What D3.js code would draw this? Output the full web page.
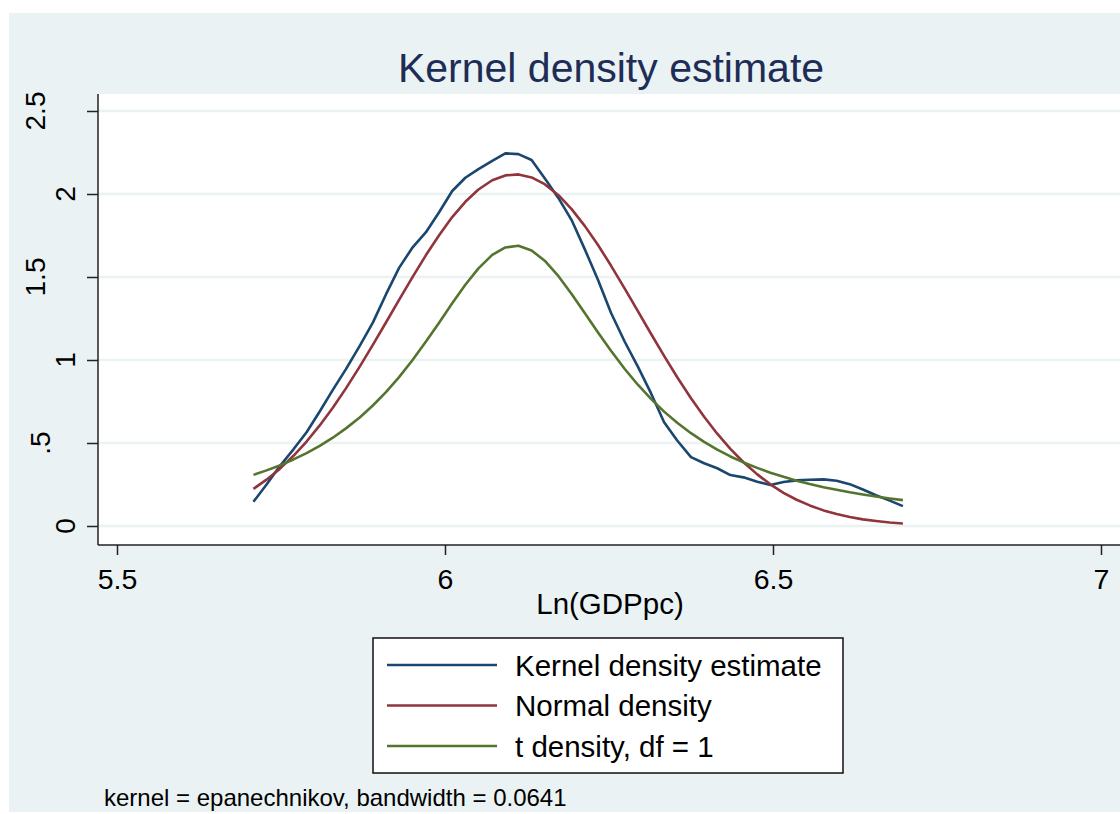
<!DOCTYPE html>
<html>
<head>
<meta charset="utf-8">
<script src="https://cdn.jsdelivr.net/npm/d3@7"></script>
<style>
  html, body { margin: 0; padding: 0; background: #ffffff; overflow: hidden; }
  svg { display: block; font-family: "Liberation Sans", Arial, Helvetica, sans-serif; }
</style>
</head>
<body>
<svg id="chart" width="1120" height="814"></svg>
<script>
// Evaluation grid for Ln(GDPpc)
const gridX = [5.708, 5.728, 5.748, 5.769, 5.789, 5.809, 5.829, 5.849, 5.870, 5.890,
               5.910, 5.930, 5.950, 5.971, 5.991, 6.011, 6.031, 6.051, 6.072, 6.092,
               6.112, 6.132, 6.152, 6.173, 6.193, 6.213, 6.233, 6.253, 6.274, 6.294,
               6.314, 6.334, 6.354, 6.375, 6.395, 6.415, 6.435, 6.455, 6.476, 6.496,
               6.516, 6.536, 6.556, 6.577, 6.597, 6.617, 6.637, 6.657, 6.678, 6.698];

// Kernel density estimate (epanechnikov)
const kernelDensity = [0.146, 0.250, 0.360, 0.462, 0.565, 0.690, 0.820, 0.945, 1.085, 1.225,
                       1.395, 1.555, 1.675, 1.770, 1.890, 2.018, 2.098, 2.150, 2.200, 2.245,
                       2.240, 2.205, 2.095, 1.975, 1.843, 1.668, 1.485, 1.285, 1.110, 0.960,
                       0.800, 0.625, 0.515, 0.415, 0.378, 0.348, 0.307, 0.293, 0.267, 0.247,
                       0.265, 0.275, 0.279, 0.281, 0.273, 0.252, 0.220, 0.185, 0.153, 0.120];

// Normal density
const normalDensity = [0.224, 0.279, 0.344, 0.423, 0.509, 0.606, 0.712, 0.829, 0.960, 1.091,
                       1.226, 1.362, 1.496, 1.632, 1.752, 1.861, 1.953, 2.027, 2.083, 2.112,
                       2.118, 2.100, 2.059, 1.993, 1.909, 1.808, 1.694, 1.569, 1.430, 1.294,
                       1.158, 1.025, 0.896, 0.770, 0.658, 0.556, 0.465, 0.384, 0.311, 0.251,
                       0.200, 0.158, 0.124, 0.094, 0.072, 0.054, 0.040, 0.030, 0.021, 0.015];

// t density, df = 1
const tDensity = [0.308, 0.335, 0.365, 0.401, 0.439, 0.483, 0.532, 0.588, 0.654, 0.726,
                  0.807, 0.897, 0.997, 1.111, 1.225, 1.342, 1.453, 1.552, 1.633, 1.678,
                  1.688, 1.660, 1.598, 1.505, 1.398, 1.283, 1.167, 1.056, 0.946, 0.851,
                  0.766, 0.689, 0.622, 0.559, 0.507, 0.460, 0.419, 0.383, 0.350, 0.321,
                  0.296, 0.273, 0.253, 0.234, 0.218, 0.203, 0.190, 0.178, 0.166, 0.156];

const xTicks = [5.5, 6, 6.5, 7];
const xTickLabels = ["5.5", "6", "6.5", "7"];
const yTicks = [0, 0.5, 1, 1.5, 2, 2.5];
const yTickLabels = ["0", ".5", "1", "1.5", "2", "2.5"];

const seriesNames = ["Kernel density estimate", "Normal density", "t density, df = 1"];
const seriesColors = ["#1a476f", "#90353b", "#55752f"];

const titleText = "Kernel density estimate";
const xAxisTitle = "Ln(GDPpc)";
const noteText = "kernel = epanechnikov, bandwidth = 0.0641";

const svg = d3.select("#chart");

// Layout
const outer = { left: 9, top: 13, right: 1230, bottom: 812 };
const plot = { left: 98, top: 94, right: 1126, bottom: 545 };

const x = d3.scaleLinear().domain([5.5, 7]).range([117, 1101]);
const y = d3.scaleLinear().domain([0, 2.5]).range([526, 111]);

// Graph region background
svg.append("rect")
  .attr("x", outer.left).attr("y", outer.top)
  .attr("width", outer.right - outer.left).attr("height", outer.bottom - outer.top)
  .attr("fill", "#eaf2f3");

// Plot region
svg.append("rect")
  .attr("x", plot.left).attr("y", plot.top)
  .attr("width", plot.right - plot.left).attr("height", plot.bottom - plot.top)
  .attr("fill", "#ffffff");

// Horizontal grid lines
svg.append("g")
  .selectAll("line")
  .data(yTicks)
  .join("line")
  .attr("x1", plot.left).attr("x2", plot.right)
  .attr("y1", d => y(d)).attr("y2", d => y(d))
  .attr("stroke", "#eaf2f3")
  .attr("stroke-width", 2.5);

// Y axis
const yAxis = d3.axisLeft(y)
  .tickValues(yTicks)
  .tickSize(11)
  .tickFormat("");
const gy = svg.append("g")
  .attr("transform", `translate(${plot.left},0)`)
  .call(yAxis);
gy.select(".domain").remove();
gy.selectAll(".tick line").attr("stroke", "#222").attr("stroke-width", 1.5);
gy.append("line")
  .attr("x1", 0).attr("x2", 0)
  .attr("y1", plot.top).attr("y2", plot.bottom)
  .attr("stroke", "#222").attr("stroke-width", 1.5);

// Rotated y tick labels; fractional labels sit further out
const yLabelBaseline = lbl => lbl.includes(".") ? (lbl.length > 2 ? 45 : 50) : 75;
svg.append("g")
  .selectAll("text")
  .data(yTicks)
  .join("text")
  .attr("transform", (d, i) => `translate(${yLabelBaseline(yTickLabels[i])},${y(d)}) rotate(-90)`)
  .attr("text-anchor", "middle")
  .attr("font-size", 28)
  .attr("fill", "#000")
  .text((d, i) => yTickLabels[i]);

// X axis
const xAxis = d3.axisBottom(x)
  .tickValues(xTicks)
  .tickSize(10)
  .tickFormat((d, i) => xTickLabels[i]);
const gx = svg.append("g")
  .attr("transform", `translate(0,${plot.bottom})`)
  .call(xAxis);
gx.select(".domain").remove();
gx.selectAll(".tick line").attr("stroke", "#222").attr("stroke-width", 1.5);
gx.selectAll(".tick text")
  .attr("y", 44)
  .attr("dy", null)
  .attr("font-size", 28.5)
  .attr("font-family", "Liberation Sans, Arial, sans-serif")
  .attr("fill", "#000");
gx.append("line")
  .attr("x1", plot.left).attr("x2", plot.right)
  .attr("y1", 0).attr("y2", 0)
  .attr("stroke", "#222").attr("stroke-width", 1.5);

// Density curves
const allSeries = [kernelDensity, normalDensity, tDensity];
const line = d3.line()
  .x((d, i) => x(gridX[i]))
  .y(d => y(d));

svg.append("g")
  .selectAll("path")
  .data(allSeries)
  .join("path")
  .attr("d", d => line(d))
  .attr("fill", "none")
  .attr("stroke", (d, i) => seriesColors[i])
  .attr("stroke-width", 2.6)
  .attr("stroke-linejoin", "round");

// Title
svg.append("text")
  .attr("x", 611).attr("y", 82)
  .attr("text-anchor", "middle")
  .attr("font-size", 41)
  .attr("fill", "#1e2d55")
  .text(titleText);

// X axis title
svg.append("text")
  .attr("x", 610).attr("y", 614)
  .attr("text-anchor", "middle")
  .attr("font-size", 29.5)
  .attr("fill", "#000")
  .text(xAxisTitle);

// Legend
const legend = svg.append("g");
legend.append("rect")
  .attr("x", 373).attr("y", 638)
  .attr("width", 470).attr("height", 135)
  .attr("fill", "#ffffff")
  .attr("stroke", "#111")
  .attr("stroke-width", 1.5);

const legendRows = legend.selectAll("g.row")
  .data(seriesNames)
  .join("g")
  .attr("class", "row")
  .attr("transform", (d, i) => `translate(0,${665 + i * 40.5})`);

legendRows.append("line")
  .attr("x1", 387).attr("x2", 497)
  .attr("y1", 0).attr("y2", 0)
  .attr("stroke", (d, i) => seriesColors[i])
  .attr("stroke-width", 2.6);

legendRows.append("text")
  .attr("x", 515).attr("y", 10.5)
  .attr("font-size", 29.5)
  .attr("fill", "#000")
  .text(d => d);

// Note
svg.append("text")
  .attr("x", 104).attr("y", 806)
  .attr("font-size", 24)
  .attr("fill", "#000")
  .text(noteText);
</script>
</body>
</html>
